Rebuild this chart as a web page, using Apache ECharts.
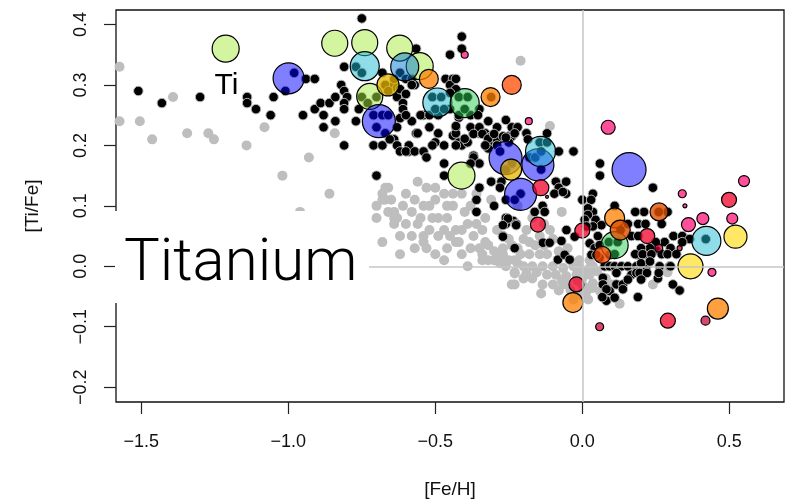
<!DOCTYPE html>
<html>
<head>
<meta charset="utf-8">
<script src="https://cdn.jsdelivr.net/npm/echarts@6/dist/echarts.min.js"></script>
<style>
  html, body { margin: 0; padding: 0; background: #ffffff; }
  #chart { width: 792px; height: 504px; }
</style>
</head>
<body>
<div id="chart"></div>
<script>
// ---- tick values and labels ----
const xTicks = [-1.5, -1.0, -0.5, 0.0, 0.5];
const xTickLabels = ['\u22121.5', '\u22121.0', '\u22120.5', '0.0', '0.5'];
const yTicks = [-0.2, -0.1, 0.0, 0.1, 0.2, 0.3, 0.4];
const yTickLabels = ['\u22120.2', '\u22120.1', '0.0', '0.1', '0.2', '0.3', '0.4'];

// ---- comparison sample (grey) : [Fe/H], [Ti/Fe] ----
const fieldStars = [
  [-1.574,0.33],[-1.574,0.24],[-1.505,0.24],[-1.463,0.21],[-1.392,0.28],[-1.344,0.22],[-1.272,0.22],[-1.253,0.21],
  [-1.142,0.20],[-1.081,0.23],[-0.842,0.22],[-0.93,0.18],[-1.02,0.15],[-0.86,0.12],[-0.96,0.09],
  [-0.68,0.12],[-0.67,0.13],[-0.68,0.11],[-0.70,0.08],[-0.64,0.09],[-0.63,0.08],[-0.68,0.04],
  [-0.56,0.14],[-0.53,0.13],[-0.50,0.13],[-0.66,0.13],[-0.67,0.11],[-0.44,0.12],[-0.41,0.12],
  [-0.61,0.10],[-0.54,0.10],[-0.52,0.10],[-0.46,0.10],[-0.38,0.10],[-0.66,0.09],[-0.64,0.08],[-0.58,0.09],
  [-0.55,0.08],[-0.51,0.08],[-0.49,0.08],[-0.46,0.08],[-0.64,0.07],[-0.56,0.07],[-0.43,0.06],[-0.41,0.06],
  [-0.62,0.05],[-0.58,0.05],[-0.54,0.05],[-0.49,0.05],[-0.45,0.05],[-0.42,0.04],[-0.37,0.05],[-0.34,0.06],
  [-0.33,0.08],[-0.33,0.04],[-0.62,0.02],[-0.53,0.03],[-0.50,0.02],[-0.38,0.03],[-0.35,0.03],[-0.32,0.035],
  [-0.29,0.06],[-0.30,0.025],[-0.28,0.02],[-0.26,0.01],[-0.34,0.01],[-0.32,0.01],[-0.28,0.005],[-0.26,0.0],[-0.39,0.0],
  [-0.54,0.04],[-0.46,0.03],[-0.43,0.04],[-0.34,0.02],[-0.30,0.01],[-0.27,0.02],[-0.23,0.01],[-0.23,-0.01],[-0.23,-0.03],[-0.20,0.0],
  [-0.135,-0.03],[-0.10,-0.03],[-0.07,-0.023],[-0.053,-0.03],[-0.016,-0.024],[0.015,-0.036],[0.036,-0.028],[0.0,-0.044],
  [0.127,-0.062],[0.24,-0.03],[0.036,0.0],[-0.01,0.0],[0.025,0.01],[0.05,0.02],[0.29,-0.01],
  [-0.07,0.09],[-0.145,0.05],[-0.11,0.06],[-0.10,0.045],[-0.20,0.045],[-0.18,0.04],[-0.24,0.035],[-0.27,0.03],
  [-0.21,0.02],[-0.18,0.02],[-0.145,0.02],[-0.12,0.02],[-0.25,0.01],[-0.22,0.005],[-0.17,0.0],[-0.135,0.0],[-0.10,0.0],
  [-0.065,-0.003],[-0.03,0.0],[-0.01,0.01],[-0.23,-0.012],[-0.19,-0.012],[-0.155,-0.01],[-0.12,-0.014],[-0.09,-0.014],
  [-0.055,-0.016],[-0.02,-0.014],[0.0,-0.008],[0.025,-0.003],[-0.24,-0.03],[-0.065,-0.03],[0.0,-0.02],[0.025,-0.014],
  [0.05,-0.008],[0.0,-0.03],[0.035,-0.036],[0.06,-0.041],[0.015,-0.041],[-0.01,-0.047],
  [-0.21,0.34],[-0.11,0.232],[-0.22,0.10],[-0.17,0.08],[-0.13,0.07],[-0.19,0.06],[-0.36,0.12],[-0.31,0.11],
  [-0.70,0.10],[-0.65,0.11],[-0.60,0.12],[-0.57,0.11],[-0.50,0.11],[-0.47,0.12],[-0.44,0.10],[-0.40,0.09],
  [-0.60,0.07],[-0.52,0.06],[-0.47,0.06],[-0.39,0.07],[-0.36,0.07],[-0.57,0.03],[-0.47,0.01],[-0.41,0.02],
  [-0.25,0.045],[-0.22,0.03],[-0.16,0.035],[-0.13,0.035],[-0.08,0.025],[-0.05,0.03],[-0.20,-0.02],[-0.17,-0.02],
  [-0.14,-0.045],[-0.08,-0.04],[-0.04,-0.04],[0.02,-0.055],[-0.03,-0.055],[0.08,-0.02],[0.10,-0.03]
];

// ---- disc stars (black) : [Fe/H], [Ti/Fe] ----
const discStars = [
  [-1.51,0.29],[-1.43,0.27],[-1.30,0.28],[-1.14,0.28],[-1.14,0.27],[-1.11,0.26],[-1.05,0.28],[-1.06,0.25],
  [-1.01,0.29],[-0.98,0.32],[-0.94,0.31],[-0.91,0.31],[-0.95,0.25],[-0.91,0.26],[-0.89,0.27],[-0.88,0.25],
  [-0.88,0.23],[-0.86,0.27],[-0.84,0.28],[-0.84,0.24],[-0.82,0.30],[-0.81,0.29],[-0.80,0.28],[-0.81,0.27],
  [-0.81,0.26],[-0.77,0.24],[-0.81,0.20],[-0.75,0.41],[-0.81,0.33],[-0.76,0.26],[-0.70,0.15],[-0.71,0.20],
  [-0.68,0.20],[-0.64,0.21],[-0.63,0.20],[-0.77,0.33],[-0.75,0.32],[-0.67,0.30],[-0.64,0.30],[-0.66,0.29],
  [-0.75,0.28],[-0.70,0.28],[-0.73,0.27],[-0.71,0.25],[-0.68,0.25],[-0.66,0.25],[-0.70,0.23],[-0.67,0.22],
  [-0.62,0.32],[-0.60,0.31],[-0.68,0.32],[-0.64,0.31],[-0.63,0.295],[-0.63,0.28],
  [-0.655,0.21],[-0.62,0.19],[-0.59,0.19],[-0.59,0.20],[-0.565,0.22],[-0.61,0.27],[-0.61,0.26],[-0.62,0.245],
  [-0.58,0.24],[-0.565,0.36],[-0.57,0.30],[-0.54,0.25],[-0.52,0.23],[-0.49,0.22],[-0.50,0.205],[-0.47,0.20],
  [-0.45,0.35],[-0.465,0.31],[-0.44,0.31],[-0.45,0.30],[-0.43,0.293],[-0.45,0.287],[-0.42,0.246],[-0.43,0.23],
  [-0.44,0.216],[-0.42,0.205],[-0.62,0.293],[-0.60,0.285],[-0.58,0.31],[-0.58,0.30],[-0.60,0.25],[-0.55,0.25],
  [-0.52,0.25],[-0.49,0.25],[-0.45,0.26],[-0.42,0.25],[-0.38,0.25],[-0.35,0.26],[-0.63,0.23],[-0.56,0.22],
  [-0.60,0.19],[-0.57,0.19],[-0.54,0.19],[-0.51,0.20],[-0.43,0.22],[-0.41,0.20],[-0.39,0.205],[-0.37,0.22],
  [-0.35,0.22],[-0.33,0.22],[-0.32,0.205],[-0.31,0.215],[-0.29,0.21],[-0.27,0.215],[-0.25,0.215],[-0.24,0.215],
  [-0.25,0.205],[-0.29,0.20],[-0.32,0.195],[-0.41,0.38],[-0.41,0.36],[-0.43,0.31],[-0.355,0.25],
  [-0.43,0.232],[-0.38,0.23],[-0.35,0.23],[-0.32,0.24],[-0.29,0.23],[-0.26,0.242],[-0.24,0.23],
  [-0.40,0.211],[-0.37,0.219],[-0.34,0.219],[-0.32,0.211],[-0.30,0.219],[-0.26,0.213],[-0.43,0.20],[-0.33,0.20],
  [-0.37,0.183],[-0.22,0.23],[-0.23,0.22],[-0.19,0.22],[-0.185,0.21],[-0.12,0.22],[-0.145,0.205],[-0.12,0.205],
  [-0.08,0.19],[-0.03,0.19],[-0.53,0.18],[-0.47,0.17],[-0.47,0.15],[-0.37,0.18],[-0.35,0.17],[-0.38,0.17],
  [-0.35,0.13],[-0.31,0.14],[-0.275,0.14],[-0.28,0.13],[-0.30,0.10],[-0.36,0.09],[-0.36,0.11],[-0.26,0.11],
  [-0.26,0.08],[-0.235,0.075],[-0.225,0.07],[-0.26,0.07],[-0.27,0.05],[-0.135,0.10],[-0.09,0.14],[-0.055,0.14],
  [-0.08,0.13],[-0.055,0.12],[-0.095,0.12],[-0.066,0.123],[0.06,0.17],[0.06,0.15],[0.036,0.12],[0.0,0.11],
  [0.03,0.11],[0.02,0.09],[0.036,0.09],[0.045,0.077],[0.065,0.068],[0.036,0.066],[0.24,0.13],[0.21,0.09],
  [0.18,0.09],[0.29,0.09],[0.11,0.10],[0.27,0.07],[0.19,0.07],[0.215,0.07],[0.155,0.07],[0.167,0.05],[0.19,0.05],
  [-0.162,0.09],[-0.128,0.09],[0.019,0.096],[0.019,0.085],[0.008,0.077],[0.014,0.066],
  [-0.054,0.06],[-0.026,0.049],[-0.071,0.042],[-0.134,0.039],[-0.111,0.039],[-0.23,0.03],[-0.27,0.049],
  [-0.253,0.079],[-0.225,0.068],[-0.27,0.068],[-0.083,0.011],[-0.06,0.019],[-0.043,0.011],
  [0.025,0.038],[0.042,0.03],[0.031,0.019],[0.059,0.014],[0.076,0.0],[0.093,0.0],[0.11,0.0],[0.133,0.0],
  [0.155,0.0],[0.184,0.0],[0.218,0.0],[0.263,0.0],[0.297,0.0],[0.07,-0.019],[0.07,-0.03],[0.093,-0.041],
  [0.116,-0.03],[0.138,-0.03],[0.082,-0.057],[0.11,-0.052],[0.167,-0.014],[0.189,-0.008],[0.155,-0.022],
  [0.116,-0.011],[0.184,-0.011],[0.201,-0.02],[0.257,-0.02],[0.082,-0.038],[0.138,-0.038],[0.068,-0.051],
  [0.189,-0.051],[0.308,-0.03],[0.331,-0.04],[0.048,0.019],[0.093,0.019],[0.189,0.019],[0.223,0.019],[0.25,0.027],
  [0.31,0.05],[0.34,0.05],[0.365,0.045],[0.28,0.04],[0.30,0.03],[0.34,0.04],[0.25,0.04],[0.23,0.03],[0.20,0.03],
  [0.18,0.02],[0.205,0.02],[0.235,0.02],[0.27,0.02],[0.29,0.02],[0.32,0.02],[0.20,0.005],[0.23,0.008],[0.30,0.0],
  [0.195,-0.011],[0.22,-0.011],[0.26,-0.011],[0.20,-0.022],[0.053,0.05],[0.059,0.035],
  [-0.51,0.28],[-0.48,0.28],[-0.50,0.26],[-0.47,0.26],[-0.42,0.28],[-0.39,0.28],[-0.40,0.26],[-0.31,0.28],
  [-0.28,0.19],[-0.24,0.17],[-0.18,0.18],[-0.14,0.16],[-0.21,0.12],[-0.23,0.11],[-0.16,0.18],[-0.14,0.19],
  [-0.26,0.16],[0.42,0.045],[0.09,0.04],[0.12,0.04],[0.11,0.02],[0.26,0.09],[0.13,0.06]
];

// ---- cluster means: [Fe/H], [Ti/Fe], weight ----
const lime    = [[-1.213,0.360,27],[-0.842,0.369,26],[-0.740,0.370,26],[-0.621,0.361,26],[-0.553,0.331,27],[-0.723,0.281,26],[-0.411,0.150,27]];
const blue    = [[-0.999,0.311,31],[-0.692,0.240,33],[-0.261,0.179,33],[-0.151,0.168,32],[-0.210,0.119,32],[0.159,0.160,34]];
const sky     = [[-0.604,0.330,28]];
const cyan    = [[-0.740,0.331,29],[-0.493,0.271,29],[-0.142,0.190,30],[0.422,0.042,29]];
const mint    = [[-0.400,0.270,29],[0.110,0.035,27]];
const gold    = [[-0.661,0.300,22],[-0.242,0.160,21]];
const yellow  = [[0.521,0.049,23],[0.368,0.000,25]];
const orange  = [[-0.522,0.310,19],[-0.312,0.280,19],[0.110,0.080,20],[-0.032,-0.060,20],[0.461,-0.070,21]];
const vermil  = [[-0.240,0.300,19],[0.068,0.019,17]];
const rust    = [[0.129,0.060,20],[0.261,0.090,18]];
const red     = [[-0.141,0.130,16],[-0.151,0.069,15],[0.0,0.059,15],[0.221,0.050,15],[0.499,0.110,15],[-0.020,-0.030,15],[0.291,-0.090,15]];
const pink    = [[0.088,0.230,14],[0.361,0.069,14],[0.410,0.079,12],[0.510,0.079,11],[0.550,0.141,11],[0.340,0.120,8],[0.349,0.100,4],[0.441,-0.010,8],[-0.400,0.350,7],[-0.182,0.240,7]];
const crimson = [[0.260,0.030,8],[0.331,0.030,5],[0.419,-0.090,9],[0.059,-0.100,8],[-0.120,0.115,3]];

// element tag placed in data space
const elementTag = { text: 'Ti', at: [-1.21, 0.298] };

const FONT = "'Liberation Sans', Helvetica, Arial, sans-serif";

const clusterGroups = [
  { data: lime,    color: 'rgba(170,235,65,0.5)' },
  { data: blue,    color: 'rgba(0,0,255,0.5)' },
  { data: sky,     color: 'rgba(5,120,210,0.5)' },
  { data: cyan,    color: 'rgba(30,187,210,0.5)' },
  { data: mint,    color: 'rgba(45,205,85,0.5)' },
  { data: gold,    color: 'rgba(228,182,0,0.75)' },
  { data: yellow,  color: 'rgba(255,224,51,0.75)' },
  { data: orange,  color: 'rgba(255,128,0,0.75)' },
  { data: vermil,  color: 'rgba(255,75,0,0.75)' },
  { data: rust,    color: 'rgba(222,80,0,0.8)' },
  { data: red,     color: 'rgba(242,0,40,0.75)' },
  { data: pink,    color: 'rgba(255,20,120,0.75)' },
  { data: crimson, color: 'rgba(200,0,50,0.72)' }
];

const series = [
  {
    // zero reference lines
    type: 'scatter', data: [], z: 1, silent: true,
    markLine: {
      silent: true, symbol: 'none', animation: false,
      label: { show: false },
      lineStyle: { color: '#c6c6c6', width: 1.5, type: 'solid' },
      data: [{ xAxis: 0 }, { yAxis: 0 }]
    }
  },
  {
    type: 'scatter', data: fieldStars, symbolSize: 10, z: 2,
    itemStyle: { color: '#bebebe', opacity: 1 }
  },
  {
    type: 'scatter', data: discStars, symbolSize: 9.5, z: 3,
    itemStyle: { color: '#000000', borderColor: 'rgba(185,185,185,0.95)', borderWidth: 1, opacity: 1 }
  }
];
clusterGroups.forEach(g => {
  series.push({
    type: 'scatter', data: g.data, z: 4,
    symbolSize: v => v[2],
    itemStyle: { color: g.color, borderColor: '#000', borderWidth: 1.2, opacity: 1 }
  });
});

const chart = echarts.init(document.getElementById('chart'), null, { renderer: 'canvas' });
chart.setOption({
  animation: false,
  backgroundColor: '#ffffff',
  grid: { left: 116, right: 8, top: 10, bottom: 99, show: true, borderColor: '#111', borderWidth: 1.3, backgroundColor: 'transparent' },
  xAxis: {
    type: 'value', min: -1.586, max: 0.686,
    name: '[Fe/H]', nameLocation: 'middle', nameGap: 78,
    nameTextStyle: { fontFamily: FONT, fontSize: 19, color: '#111' },
    axisLine: { show: false, onZero: false },
    splitLine: { show: false },
    axisTick: { show: true, length: 12, customValues: xTicks, lineStyle: { color: '#222', width: 1.2 } },
    axisLabel: {
      show: true, margin: 31, customValues: xTicks, fontFamily: FONT, fontSize: 18, color: '#111',
      formatter: v => xTickLabels[xTicks.findIndex(t => Math.abs(t - v) < 1e-9)]
    }
  },
  yAxis: {
    type: 'value', min: -0.2245, max: 0.424,
    name: '[Ti/Fe]', nameLocation: 'middle', nameGap: 74,
    nameTextStyle: { fontFamily: FONT, fontSize: 19, color: '#111' },
    axisLine: { show: false, onZero: false },
    splitLine: { show: false },
    axisTick: { show: true, length: 12, customValues: yTicks, lineStyle: { color: '#222', width: 1.2 } },
    axisLabel: {
      show: true, rotate: 90, margin: 26, customValues: yTicks, fontFamily: FONT, fontSize: 18, color: '#111',
      formatter: v => yTickLabels[yTicks.findIndex(t => Math.abs(t - v) < 1e-9)]
    }
  },
  series: series
});

// overlay: element tag (positioned through the axes) and the title panel
const tagPx = chart.convertToPixel({ gridIndex: 0 }, elementTag.at);
chart.setOption({
  graphic: [
    { type: 'text', z: 50, x: tagPx[0], y: tagPx[1], silent: true,
      style: { text: elementTag.text, fontFamily: FONT, fontSize: 30, fill: '#000', textAlign: 'center', textVerticalAlign: 'middle' } },
    { type: 'rect', z: 100, shape: { x: 115, y: 211, width: 254, height: 92 }, style: { fill: '#ffffff' }, silent: true },
    { type: 'text', z: 101, x: 124, y: 265, silent: true,
      style: { text: 'Titanium', fontFamily: "Roboto, 'Liberation Sans', sans-serif", fontWeight: 300, fontSize: 60, fill: '#000', textVerticalAlign: 'middle', textAlign: 'left' } }
  ]
});
</script>
</body>
</html>
